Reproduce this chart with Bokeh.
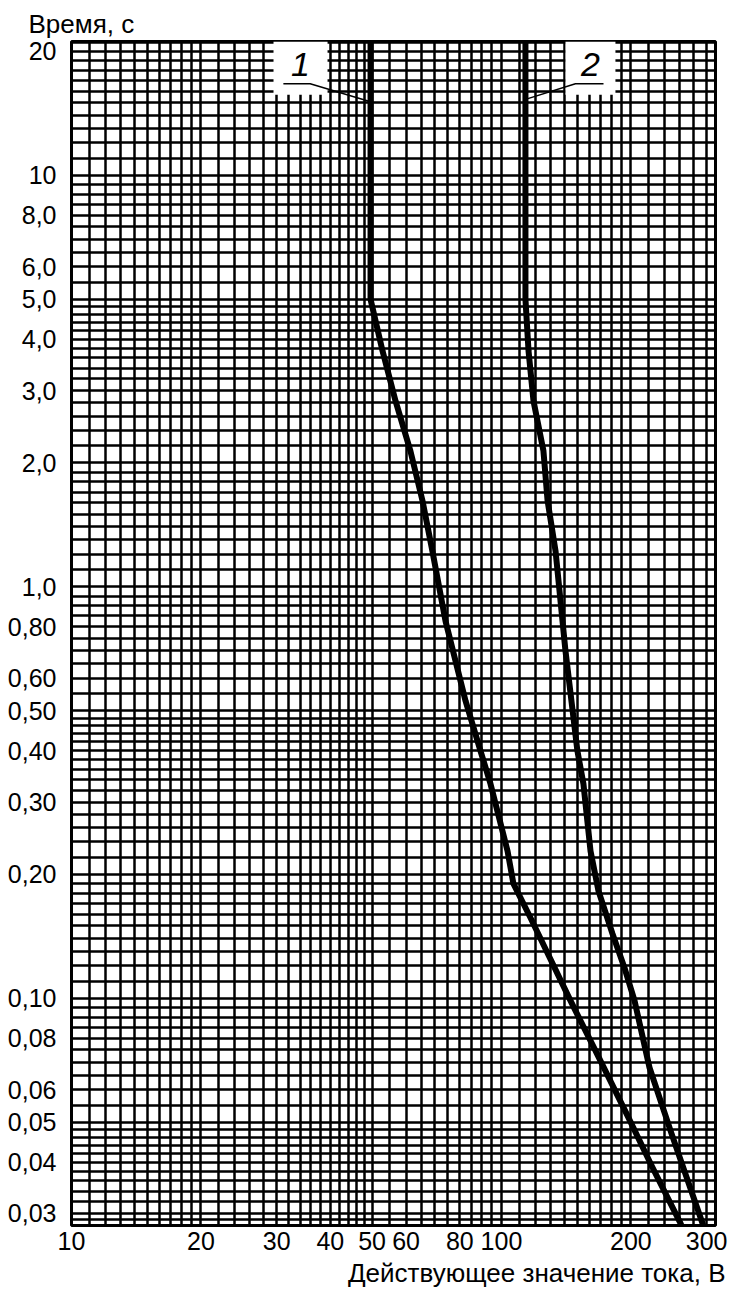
from bokeh.plotting import figure
from bokeh.models import Range1d, FixedTicker, BoxAnnotation, Label, Title
from bokeh.embed import file_html
from bokeh.resources import INLINE

# ---------------- data ----------------
curve1_current = [49.6, 49.6, 52.9, 56.7, 61.4, 65.5, 69.1, 74.1, 82.5, 89.4, 94.3,
                  103.3, 106.6, 116.8, 127.2, 144.7, 165.4, 197.4, 224.5, 260.9, 264.0]
curve1_time = [22.0, 5.0, 3.74, 2.83, 2.14, 1.62, 1.22, 0.826, 0.528, 0.399, 0.332,
               0.228, 0.190, 0.157, 0.1305, 0.0987, 0.0746, 0.0513, 0.0388, 0.0284, 0.0275]

curve2_current = [113.7, 113.7, 115.6, 118.7, 125.2, 128.0, 133.6, 140.9, 150.2, 155.1,
                  161.1, 168.1, 181.2, 193.2, 203.9, 220.9, 248.6, 293.4, 296.5]
curve2_time = [22.0, 5.0, 3.74, 2.83, 2.14, 1.62, 1.22, 0.698, 0.399, 0.332,
               0.228, 0.1825, 0.1435, 0.1187, 0.0987, 0.0679, 0.0469, 0.0284, 0.0275]

x_ticks = [10, 20, 30, 40, 50, 60, 80, 100, 200, 300]
x_tick_labels = ["10", "20", "30", "40", "50", "60", "80", "100", "200", "300"]
y_ticks = [20, 10, 8, 6, 5, 4, 3, 2, 1, 0.8, 0.6, 0.5, 0.4, 0.3, 0.2, 0.1,
           0.08, 0.06, 0.05, 0.04, 0.03]
y_tick_labels = ["20", "10", "8,0", "6,0", "5,0", "4,0", "3,0", "2,0", "1,0", "0,80",
                 "0,60", "0,50", "0,40", "0,30", "0,20", "0,10", "0,08", "0,06",
                 "0,05", "0,04", "0,03"]

curve_names = ["1", "2"]
# callout label anchors (current, time)
callout_text_x = [34.1, 161.1]
callout_text_y = [18.6, 18.6]
callout_box_x = [(29.5, 39.4), (140.9, 184.1)]
callout_box_bottom = [15.7, 15.7]
callout_under_x = [(31.1, 35.9), (172.7, 148.6)]
callout_under_y = [16.7, 16.7]
callout_tip_x = [49.6, 113.7]
callout_tip_y = [15.1, 15.3]

x_title = "Действующее значение тока, В"
y_title = "Время, с"

# grid subdivisions of the log paper: (start, stop, step)
x_grid_steps = [(10, 20, 1), (20, 50, 2), (50, 100, 5), (100, 200, 10), (200, 300, 20)]
y_grid_steps = [(0.029, 0.030, 0.001), (0.03, 0.05, 0.002), (0.05, 0.1, 0.005),
                (0.1, 0.2, 0.01), (0.2, 0.5, 0.02), (0.5, 1.0, 0.05), (1, 2, 0.1),
                (2, 5, 0.2), (5, 10, 0.5), (10, 21, 1)]


def expand(steps):
    vals = []
    for a, b, s in steps:
        n = int(round((b - a) / s))
        for k in range(n + 1):
            vals.append(round(a + k * s, 6))
    return sorted(set(vals))


FONT = "Liberation Sans"

p = figure(x_axis_type="log", y_axis_type="log",
           x_range=Range1d(10, 314.6), y_range=Range1d(0.02805, 21.15),
           frame_width=644, frame_height=1184,
           min_border_left=71, min_border_top=41, min_border_right=14,
           min_border_bottom=20,
           output_backend="svg", toolbar_location=None,
           background_fill_color="white", border_fill_color="white")

# title (y axis caption) at top-left
p.title.text = y_title
p.title.align = "left"
p.title.offset = -43
p.title.text_font = FONT
p.title.text_font_size = "26px"
p.title.text_font_style = "normal"
p.title.text_color = "black"
p.title.standoff = 6

# x caption bottom-right
p.add_layout(Title(text=x_title, align="right", offset=-10, text_font=FONT,
                   text_font_size="26px", text_font_style="normal",
                   text_color="black", standoff=6), "below")

p.outline_line_color = "black"
p.outline_line_width = 3

# grid
for g, steps in ((p.xgrid, x_grid_steps), (p.ygrid, y_grid_steps)):
    g.ticker = FixedTicker(ticks=expand(steps))
    g.grid_line_color = "black"
    g.grid_line_width = 2.5
    g.grid_line_alpha = 1.0

# axes
p.xaxis.ticker = FixedTicker(ticks=x_ticks)
p.xaxis.major_label_overrides = dict(zip(x_ticks, x_tick_labels))
p.yaxis.ticker = FixedTicker(ticks=y_ticks)
p.yaxis.major_label_overrides = dict(zip(y_ticks, y_tick_labels))
for ax in (p.xaxis[0], p.yaxis[0]):
    ax.axis_line_color = None
    ax.major_tick_line_color = None
    ax.minor_tick_line_color = None
    ax.major_tick_out = 0
    ax.major_tick_in = 0
    ax.major_label_text_font = FONT
    ax.major_label_text_font_size = "25px"
    ax.major_label_text_color = "black"
p.yaxis.major_label_standoff = 15
p.xaxis.major_label_standoff = 6

# curves
p.line(curve1_current, curve1_time, line_color="black", line_width=6, line_join="round")
p.line(curve2_current, curve2_time, line_color="black", line_width=6, line_join="round")

# callouts
for i, name in enumerate(curve_names):
    x0, x1 = callout_box_x[i]
    p.add_layout(BoxAnnotation(left=x0, right=x1, bottom=callout_box_bottom[i],
                               fill_color="white", fill_alpha=1.0, line_color=None,
                               level="annotation"))
    ux0, ux1 = callout_under_x[i]
    p.line([ux0, ux1, callout_tip_x[i]], [callout_under_y[i], callout_under_y[i], callout_tip_y[i]],
           line_color="black", line_width=1.5, level="overlay")
    p.add_layout(Label(x=callout_text_x[i], y=callout_text_y[i], text=name,
                       text_font=FONT, text_font_size="34px", text_font_style="italic",
                       text_align="center", text_baseline="middle", text_color="black"))

open("out.html", "w").write(file_html(p, INLINE))
